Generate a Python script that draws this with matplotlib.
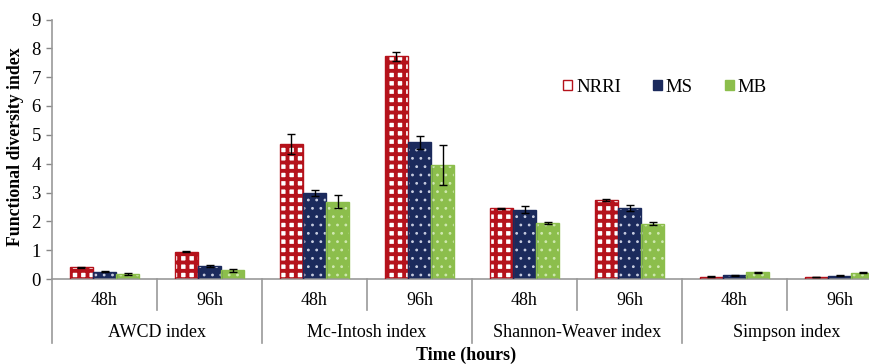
import matplotlib
matplotlib.use("Agg")
import matplotlib.pyplot as plt
import numpy as np

groups = ["AWCD index", "Mc-Intosh index", "Shannon-Weaver index", "Simpson index"]
times = ["48h", "96h"]
series = ["NRRI", "MS", "MB"]
nrri = [0.41, 0.94, 4.67, 7.73, 2.45, 2.74, 0.08, 0.07]
ms = [0.25, 0.45, 2.99, 4.74, 2.41, 2.46, 0.13, 0.12]
mb = [0.17, 0.30, 2.68, 3.95, 1.95, 1.92, 0.23, 0.22]
nrri_err = [0.02, 0.02, 0.35, 0.16, 0.02, 0.02, 0.01, 0.01]
ms_err = [0.02, 0.02, 0.10, 0.22, 0.13, 0.10, 0.01, 0.01]
mb_err = [0.03, 0.05, 0.22, 0.70, 0.03, 0.06, 0.02, 0.02]

plt.rcParams['font.family'] = ['Liberation Serif', 'DejaVu Serif']

fig = plt.figure(figsize=(8.69, 3.64), dpi=100)
ax = fig.add_axes([52/869, (364-279)/364, 840/869, (279-19.5)/364])

n = len(nrri)
x = np.arange(n) + 0.5
w = 0.222
offs = [-w, 0, w]
vals = [nrri, ms, mb]
errs = [nrri_err, ms_err, mb_err]
faces = ['white', '#1B2A5C', '#8CBE4C']
hcols = ['#B5121B', '#C8CDE0', '#CFE8B0']
edges = ['#B5121B', '#1B2A5C', '#8CBE4C']
hatches = ['++', '..', '..']
hlw = [2.8, 0.8, 0.8]

handles = []
for i in range(3):
    with plt.rc_context({'hatch.linewidth': hlw[i], 'hatch.color': hcols[i]}):
        ax.bar(x + offs[i], vals[i], w, color=faces[i], edgecolor=hcols[i],
               hatch=hatches[i], linewidth=0, zorder=2)
    ax.bar(x + offs[i], vals[i], w, color='none', edgecolor=edges[i],
           linewidth=1.0, zorder=3)
    ax.errorbar(x + offs[i], vals[i], yerr=errs[i], fmt='none', ecolor='black',
                elinewidth=1.0, capsize=3, capthick=1.0, zorder=4)
    with plt.rc_context({'hatch.linewidth': hlw[i], 'hatch.color': hcols[i]}):
        hh = plt.Rectangle((0, 0), 1, 1, facecolor=faces[i], edgecolor=edges[i],
                           hatch=hatches[i][:1], linewidth=1.0)
    handles.append(hh)

ax.set_xlim(0, n)
ax.set_ylim(0, 9)
ax.set_yticks(range(10))
ax.tick_params(axis='y', labelsize=13.5, color='#888888', length=4, width=1, pad=4)
ax.tick_params(axis='x', bottom=False, labelbottom=False)
for s in ['top', 'right']:
    ax.spines[s].set_visible(False)
for s in ['left', 'bottom']:
    ax.spines[s].set_color('#999999')
    ax.spines[s].set_linewidth(1.2)
ax.spines['left'].set_zorder(5)

trans = ax.get_xaxis_transform()
# subcategory labels
for j in range(n):
    ax.text(x[j], -0.083, times[j % 2], transform=trans, ha='center', va='center', fontsize=13)
# separators
for j in range(1, n):
    y2 = -0.245 if j % 2 == 0 else -0.12
    ax.plot([j, j], [0, y2], transform=trans, color='#999999', lw=1.2, clip_on=False)
ax.plot([0, 0], [0, -0.245], transform=trans, color='#999999', lw=1.2, clip_on=False)
for g in range(len(groups)):
    ax.text(2 * g + 1, -0.208, groups[g], transform=trans, ha='center', va='center', fontsize=13)

fig.text(466/869, 1 - 355/364, "Time (hours)", ha='center', va='center', fontsize=13, fontweight='bold')
fig.text(16/869, 1 - 147/364, "Functional diversity index", ha='center', va='center',
         rotation=90, fontsize=12.8, fontweight='bold')

leg = fig.legend(handles, series, loc='center', bbox_to_anchor=(665/869, 1 - 87/364),
                 ncol=3, frameon=False, fontsize=13.5, handlelength=0.5, handleheight=0.5,
                 handletextpad=0.2, columnspacing=1.7)

fig.savefig("out.png", dpi=100)
